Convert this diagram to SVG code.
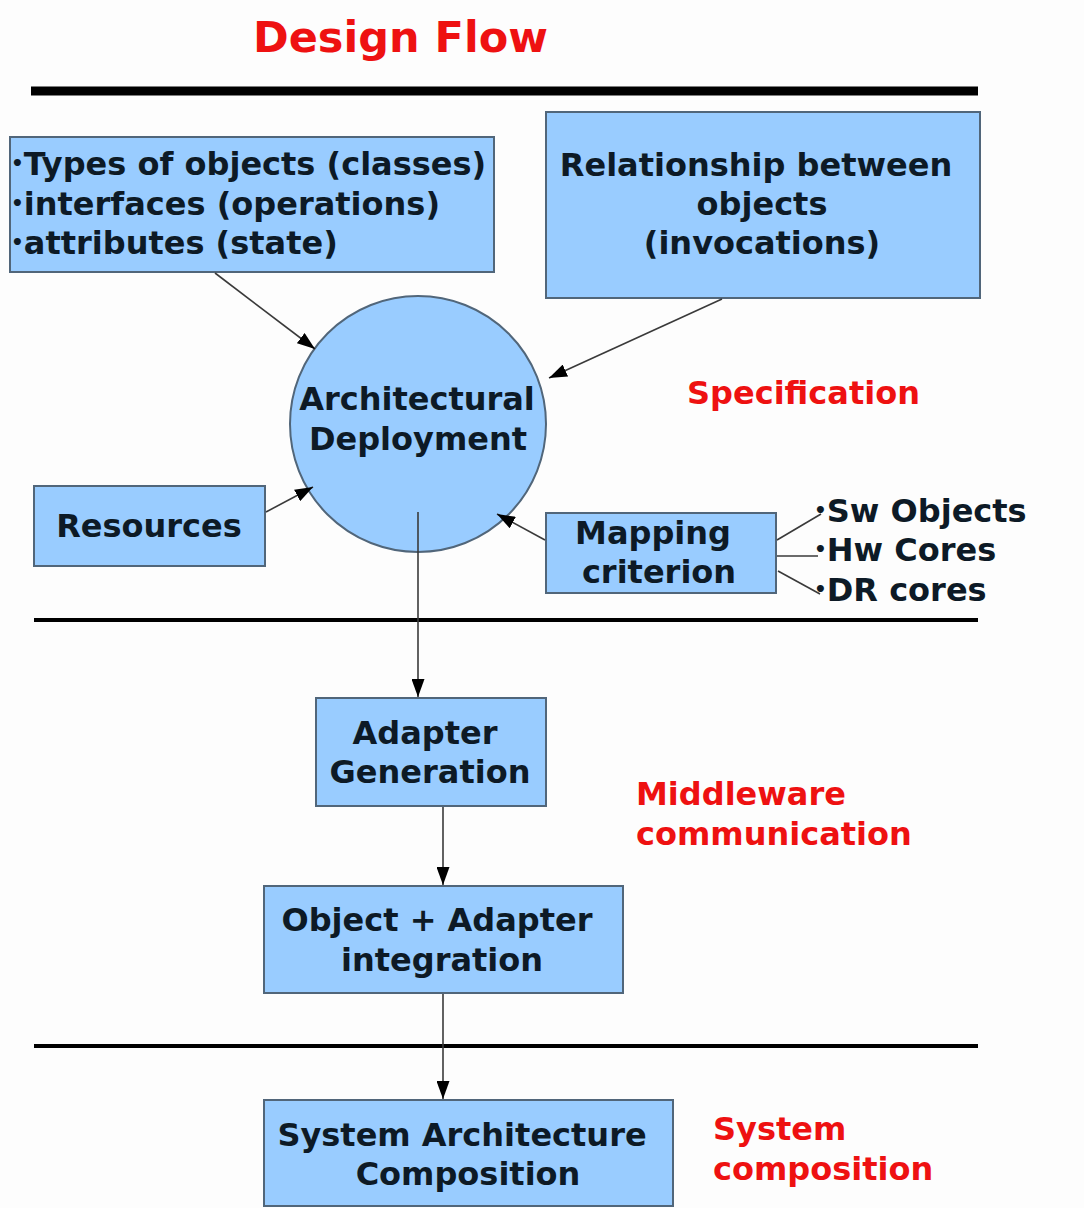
<svg xmlns="http://www.w3.org/2000/svg" width="1084" height="1208" viewBox="0 0 1084 1208">
  <style>
    .box { fill: #99ccff; stroke: #51667a; stroke-width: 2; }
    .lbl { font-family: "DejaVu Sans", "Liberation Sans", sans-serif; font-weight: bold; font-size: 32px; fill: #0d1a26; }
    .mid { text-anchor: middle; }
    .red { font-family: "DejaVu Sans", "Liberation Sans", sans-serif; font-weight: bold; font-size: 32px; fill: #ee1111; }
    .dot { font-size: 20px; }
    .rule { stroke: #000; }
    .conn { stroke: #3a3a3a; stroke-width: 1.6; fill: none; }
  </style>
  <defs>
    <marker id="arrow" viewBox="0 0 18 13" refX="18" refY="6.5" markerWidth="18" markerHeight="13" markerUnits="userSpaceOnUse" orient="auto">
      <path d="M0,0 L18,6.5 L0,13 Z" fill="#000"/>
    </marker>
  </defs>

  <rect width="1084" height="1208" fill="#fdfdfd"/>

  <!-- title and section rules -->
  <text x="253" y="52" font-family="DejaVu Sans, Liberation Sans, sans-serif" font-weight="bold" font-size="43" fill="#ee1111">Design Flow</text>
  <line class="rule" x1="31" y1="91" x2="978" y2="91" stroke-width="9"/>
  <line class="rule" x1="34" y1="620" x2="978" y2="620" stroke-width="4"/>
  <line class="rule" x1="34" y1="1046" x2="978" y2="1046" stroke-width="4"/>

  <!-- section labels -->
  <text class="red" x="687" y="404">Specification</text>
  <text class="red" x="636" y="805">Middleware</text>
  <text class="red" x="636" y="845">communication</text>
  <text class="red" x="713" y="1140">System</text>
  <text class="red" x="713" y="1180">composition</text>

  <g id="node-objects">
    <rect class="box" x="10" y="137" width="484" height="135"/>
    <text class="lbl" x="11" y="175"><tspan class="dot" dy="-5">•</tspan><tspan dy="5">Types of objects (classes)</tspan></text>
    <text class="lbl" x="11" y="215"><tspan class="dot" dy="-5">•</tspan><tspan dy="5">interfaces (operations)</tspan></text>
    <text class="lbl" x="11" y="254"><tspan class="dot" dy="-5">•</tspan><tspan dy="5">attributes (state)</tspan></text>
  </g>

  <g id="node-relationship">
    <rect class="box" x="546" y="112" width="434" height="186"/>
    <text class="lbl mid" x="756" y="176">Relationship between</text>
    <text class="lbl mid" x="762" y="215">objects</text>
    <text class="lbl mid" x="762" y="254">(invocations)</text>
  </g>

  <g id="node-deployment">
    <circle class="box" cx="418" cy="424" r="128"/>
    <text class="lbl mid" x="417" y="410">Architectural</text>
    <text class="lbl mid" x="418" y="450">Deployment</text>
  </g>

  <g id="node-resources">
    <rect class="box" x="34" y="486" width="231" height="80"/>
    <text class="lbl mid" x="149" y="537">Resources</text>
  </g>

  <g id="node-mapping">
    <rect class="box" x="546" y="513" width="230" height="80"/>
    <text class="lbl mid" x="653" y="544">Mapping</text>
    <text class="lbl mid" x="659" y="583">criterion</text>
  </g>

  <g id="node-targets">
    <text class="lbl" x="814" y="522"><tspan class="dot" dy="-5">•</tspan><tspan dy="5">Sw Objects</tspan></text>
    <text class="lbl" x="814" y="561"><tspan class="dot" dy="-5">•</tspan><tspan dy="5">Hw Cores</tspan></text>
    <text class="lbl" x="814" y="601"><tspan class="dot" dy="-5">•</tspan><tspan dy="5">DR cores</tspan></text>
  </g>

  <g id="node-adapter">
    <rect class="box" x="316" y="698" width="230" height="108"/>
    <text class="lbl mid" x="425" y="744">Adapter</text>
    <text class="lbl mid" x="430" y="783">Generation</text>
  </g>

  <g id="node-integration">
    <rect class="box" x="264" y="886" width="359" height="107"/>
    <text class="lbl mid" x="437" y="931">Object + Adapter</text>
    <text class="lbl mid" x="442" y="971">integration</text>
  </g>

  <g id="node-composition">
    <rect class="box" x="264" y="1100" width="409" height="106"/>
    <text class="lbl mid" x="462" y="1146">System Architecture</text>
    <text class="lbl mid" x="468" y="1185">Composition</text>
  </g>

  <!-- connectors, drawn last so the deployment outflow shows inside the circle -->
  <g id="connectors">
    <line class="conn" x1="215" y1="273" x2="315" y2="349" marker-end="url(#arrow)"/>
    <line class="conn" x1="722" y1="299" x2="549" y2="378" marker-end="url(#arrow)"/>
    <line class="conn" x1="266" y1="512" x2="313" y2="487" marker-end="url(#arrow)"/>
    <line class="conn" x1="545" y1="540" x2="497" y2="514" marker-end="url(#arrow)"/>
    <line class="conn" x1="418" y1="512" x2="418" y2="697" marker-end="url(#arrow)"/>
    <line class="conn" x1="443" y1="807" x2="443" y2="885" marker-end="url(#arrow)"/>
    <line class="conn" x1="443" y1="994" x2="443" y2="1099" marker-end="url(#arrow)"/>
    <line class="conn" x1="777" y1="540" x2="821" y2="514"/>
    <line class="conn" x1="777" y1="556" x2="818" y2="556"/>
    <line class="conn" x1="778" y1="571" x2="820" y2="594"/>
  </g>
</svg>
